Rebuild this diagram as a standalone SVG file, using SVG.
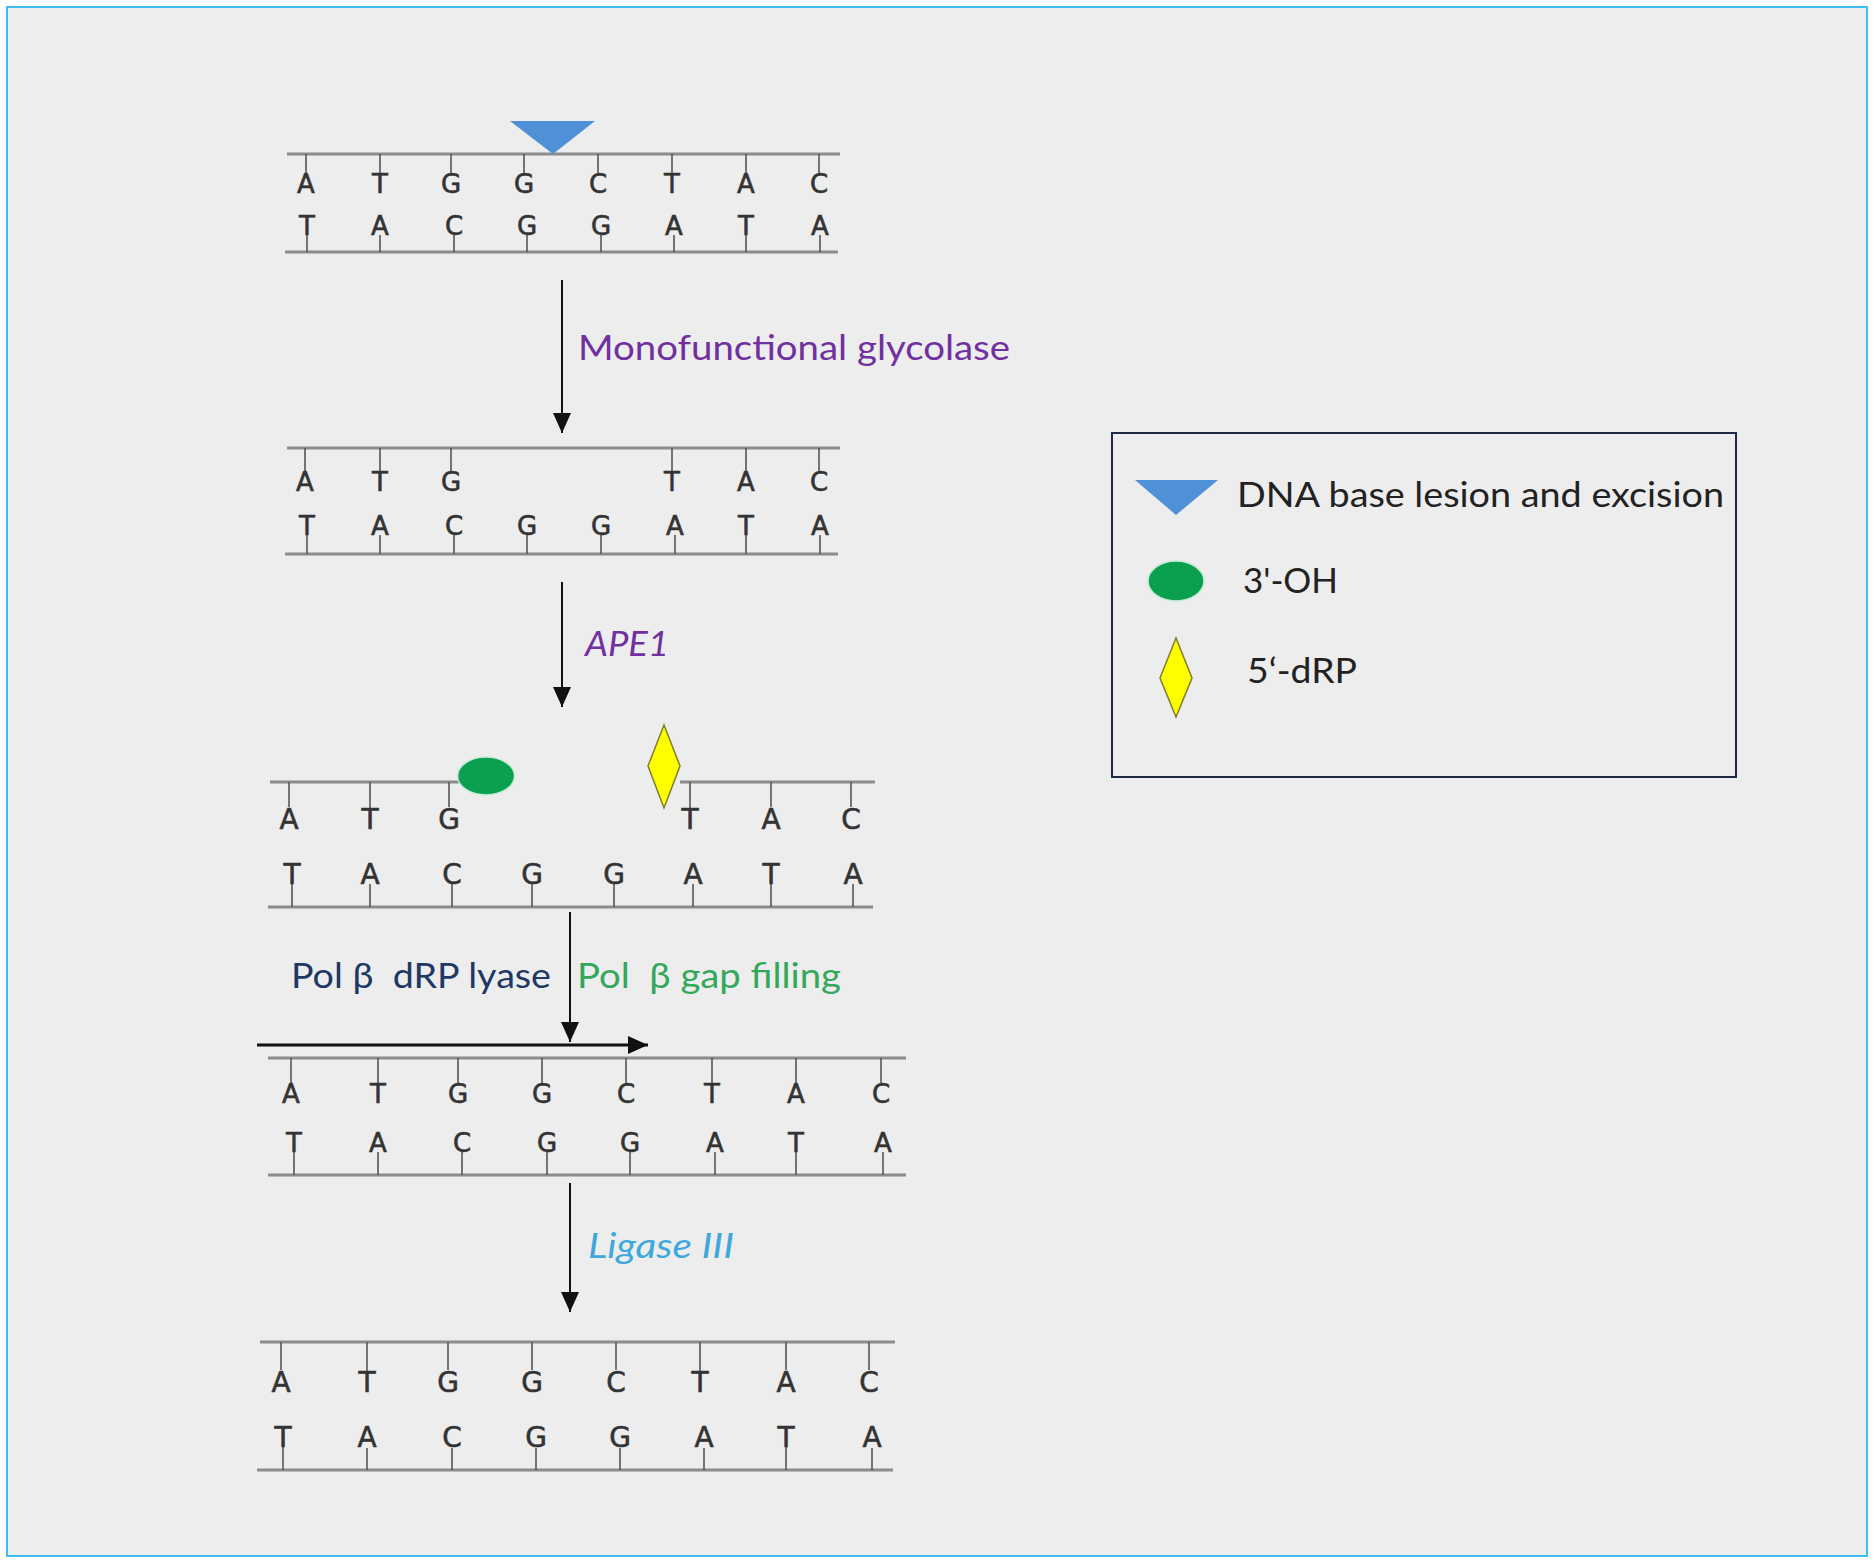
<svg xmlns="http://www.w3.org/2000/svg" width="1874" height="1563" viewBox="0 0 1874 1563">
<defs>
<style>
.bb{stroke:#8c8c8c;stroke-width:3;fill:none}
.st{stroke:#555;stroke-width:1.6}
.nt{font-family:"DejaVu Sans",sans-serif;font-size:26px;fill:#333;stroke:#333;stroke-width:0.6;text-anchor:middle}
.nt5{font-family:"DejaVu Sans",sans-serif;font-size:28px;fill:#333;stroke:#333;stroke-width:0.6;text-anchor:middle}
.lb{font-family:Lato,"Open Sans",sans-serif;font-size:35px}
.arr{stroke:#111;stroke-width:2;fill:none;marker-end:url(#ah)}
</style>
<marker id="ah" markerUnits="userSpaceOnUse" markerWidth="20" markerHeight="22" refX="20" refY="9" orient="auto" viewBox="0 0 20 18">
<path d="M0,0 L20,9 L0,18 z" fill="#111"/>
</marker>
</defs>
<rect x="0" y="0" width="1874" height="1563" fill="#ffffff"/>
<rect x="7" y="7" width="1860" height="1549" fill="#ededed" stroke="#3dbdf0" stroke-width="2"/>

<g id="strand1">
<line class="bb" x1="287" y1="154" x2="840" y2="154"/>
<line class="bb" x1="285" y1="252" x2="838" y2="252"/>
<g>
<line class="st" x1="306" y1="154" x2="306" y2="173"/><line class="st" x1="380" y1="154" x2="380" y2="174"/><line class="st" x1="451" y1="154" x2="451" y2="173"/><line class="st" x1="524" y1="154" x2="524" y2="173"/><line class="st" x1="598" y1="154" x2="598" y2="173"/><line class="st" x1="672" y1="154" x2="672" y2="174"/><line class="st" x1="746" y1="154" x2="746" y2="173"/><line class="st" x1="819" y1="154" x2="819" y2="173"/>
<line class="st" x1="307" y1="232" x2="307" y2="252"/><line class="st" x1="380" y1="235" x2="380" y2="252"/><line class="st" x1="454" y1="235" x2="454" y2="252"/><line class="st" x1="527" y1="235" x2="527" y2="252"/><line class="st" x1="601" y1="235" x2="601" y2="252"/><line class="st" x1="674" y1="235" x2="674" y2="252"/><line class="st" x1="746" y1="232" x2="746" y2="252"/><line class="st" x1="820" y1="235" x2="820" y2="252"/>
</g>
<text class="nt" x="306" y="193">A</text><text class="nt" x="380" y="193">T</text><text class="nt" x="451" y="193">G</text><text class="nt" x="524" y="193">G</text><text class="nt" x="598" y="193">C</text><text class="nt" x="672" y="193">T</text><text class="nt" x="746" y="193">A</text><text class="nt" x="819" y="193">C</text>
<text class="nt" x="307" y="235">T</text><text class="nt" x="380" y="235">A</text><text class="nt" x="454" y="235">C</text><text class="nt" x="527" y="235">G</text><text class="nt" x="601" y="235">G</text><text class="nt" x="674" y="235">A</text><text class="nt" x="746" y="235">T</text><text class="nt" x="820" y="235">A</text>
<polygon points="510,121 595,121 553,154" fill="#4e91d6"/>
</g>

<g id="strand2">
<line class="bb" x1="287" y1="448" x2="840" y2="448"/>
<line class="bb" x1="285" y1="554" x2="838" y2="554"/>
<line class="st" x1="305" y1="448" x2="305" y2="471"/><line class="st" x1="380" y1="448" x2="380" y2="472"/><line class="st" x1="451" y1="448" x2="451" y2="471"/><line class="st" x1="672" y1="448" x2="672" y2="472"/><line class="st" x1="746" y1="448" x2="746" y2="471"/><line class="st" x1="819" y1="448" x2="819" y2="471"/>
<line class="st" x1="307" y1="532" x2="307" y2="554"/><line class="st" x1="380" y1="535" x2="380" y2="554"/><line class="st" x1="454" y1="535" x2="454" y2="554"/><line class="st" x1="527" y1="535" x2="527" y2="554"/><line class="st" x1="601" y1="535" x2="601" y2="554"/><line class="st" x1="675" y1="535" x2="675" y2="554"/><line class="st" x1="746" y1="532" x2="746" y2="554"/><line class="st" x1="820" y1="535" x2="820" y2="554"/>
<text class="nt" x="305" y="491">A</text><text class="nt" x="380" y="491">T</text><text class="nt" x="451" y="491">G</text><text class="nt" x="672" y="491">T</text><text class="nt" x="746" y="491">A</text><text class="nt" x="819" y="491">C</text>
<text class="nt" x="307" y="535">T</text><text class="nt" x="380" y="535">A</text><text class="nt" x="454" y="535">C</text><text class="nt" x="527" y="535">G</text><text class="nt" x="601" y="535">G</text><text class="nt" x="675" y="535">A</text><text class="nt" x="746" y="535">T</text><text class="nt" x="820" y="535">A</text>
</g>

<g id="strand3">
<line class="bb" x1="270" y1="782" x2="460" y2="782"/>
<line class="bb" x1="680" y1="782" x2="875" y2="782"/>
<line class="bb" x1="268" y1="907" x2="873" y2="907"/>
<line class="st" x1="289" y1="782" x2="289" y2="807"/><line class="st" x1="370" y1="782" x2="370" y2="808"/><line class="st" x1="449" y1="782" x2="449" y2="807"/><line class="st" x1="690" y1="782" x2="690" y2="808"/><line class="st" x1="771" y1="782" x2="771" y2="807"/><line class="st" x1="851" y1="782" x2="851" y2="807"/>
<line class="st" x1="292" y1="882" x2="292" y2="907"/><line class="st" x1="370" y1="884" x2="370" y2="907"/><line class="st" x1="452" y1="884" x2="452" y2="907"/><line class="st" x1="532" y1="884" x2="532" y2="907"/><line class="st" x1="614" y1="884" x2="614" y2="907"/><line class="st" x1="693" y1="884" x2="693" y2="907"/><line class="st" x1="771" y1="882" x2="771" y2="907"/><line class="st" x1="853" y1="884" x2="853" y2="907"/>
<text class="nt5" x="289" y="829">A</text><text class="nt5" x="370" y="829">T</text><text class="nt5" x="449" y="829">G</text><text class="nt5" x="690" y="829">T</text><text class="nt5" x="771" y="829">A</text><text class="nt5" x="851" y="829">C</text>
<text class="nt5" x="292" y="884">T</text><text class="nt5" x="370" y="884">A</text><text class="nt5" x="452" y="884">C</text><text class="nt5" x="532" y="884">G</text><text class="nt5" x="614" y="884">G</text><text class="nt5" x="693" y="884">A</text><text class="nt5" x="771" y="884">T</text><text class="nt5" x="853" y="884">A</text>
<ellipse cx="486" cy="776" rx="28.5" ry="19" fill="#0ba04f" stroke="#c8ecd8" stroke-width="1.5"/>
<polygon points="664,725 680,766 664,808 648,766" fill="#ffff00" stroke="#7d7d2a" stroke-width="1.5"/>
</g>

<g id="strand4">
<line class="bb" x1="268" y1="1058" x2="906" y2="1058"/>
<line class="bb" x1="268" y1="1175" x2="906" y2="1175"/>
<line class="st" x1="291" y1="1058" x2="291" y2="1083"/><line class="st" x1="378" y1="1058" x2="378" y2="1084"/><line class="st" x1="458" y1="1058" x2="458" y2="1083"/><line class="st" x1="542" y1="1058" x2="542" y2="1083"/><line class="st" x1="626" y1="1058" x2="626" y2="1083"/><line class="st" x1="712" y1="1058" x2="712" y2="1084"/><line class="st" x1="796" y1="1058" x2="796" y2="1083"/><line class="st" x1="881" y1="1058" x2="881" y2="1083"/>
<line class="st" x1="294" y1="1150" x2="294" y2="1175"/><line class="st" x1="378" y1="1152" x2="378" y2="1175"/><line class="st" x1="462" y1="1152" x2="462" y2="1175"/><line class="st" x1="547" y1="1152" x2="547" y2="1175"/><line class="st" x1="630" y1="1152" x2="630" y2="1175"/><line class="st" x1="715" y1="1152" x2="715" y2="1175"/><line class="st" x1="796" y1="1150" x2="796" y2="1175"/><line class="st" x1="883" y1="1152" x2="883" y2="1175"/>
<text class="nt" x="291" y="1103">A</text><text class="nt" x="378" y="1103">T</text><text class="nt" x="458" y="1103">G</text><text class="nt" x="542" y="1103">G</text><text class="nt" x="626" y="1103">C</text><text class="nt" x="712" y="1103">T</text><text class="nt" x="796" y="1103">A</text><text class="nt" x="881" y="1103">C</text>
<text class="nt" x="294" y="1152">T</text><text class="nt" x="378" y="1152">A</text><text class="nt" x="462" y="1152">C</text><text class="nt" x="547" y="1152">G</text><text class="nt" x="630" y="1152">G</text><text class="nt" x="715" y="1152">A</text><text class="nt" x="796" y="1152">T</text><text class="nt" x="883" y="1152">A</text>
</g>

<g id="strand5">
<line class="bb" x1="260" y1="1342" x2="895" y2="1342"/>
<line class="bb" x1="257" y1="1470" x2="893" y2="1470"/>
<line class="st" x1="281" y1="1342" x2="281" y2="1370"/><line class="st" x1="367" y1="1342" x2="367" y2="1371"/><line class="st" x1="448" y1="1342" x2="448" y2="1370"/><line class="st" x1="532" y1="1342" x2="532" y2="1370"/><line class="st" x1="616" y1="1342" x2="616" y2="1370"/><line class="st" x1="700" y1="1342" x2="700" y2="1371"/><line class="st" x1="786" y1="1342" x2="786" y2="1370"/><line class="st" x1="869" y1="1342" x2="869" y2="1370"/>
<line class="st" x1="283" y1="1446" x2="283" y2="1470"/><line class="st" x1="367" y1="1448" x2="367" y2="1470"/><line class="st" x1="452" y1="1448" x2="452" y2="1470"/><line class="st" x1="536" y1="1448" x2="536" y2="1470"/><line class="st" x1="620" y1="1448" x2="620" y2="1470"/><line class="st" x1="704" y1="1448" x2="704" y2="1470"/><line class="st" x1="786" y1="1446" x2="786" y2="1470"/><line class="st" x1="872" y1="1448" x2="872" y2="1470"/>
<text class="nt5" x="281" y="1392">A</text><text class="nt5" x="367" y="1392">T</text><text class="nt5" x="448" y="1392">G</text><text class="nt5" x="532" y="1392">G</text><text class="nt5" x="616" y="1392">C</text><text class="nt5" x="700" y="1392">T</text><text class="nt5" x="786" y="1392">A</text><text class="nt5" x="869" y="1392">C</text>
<text class="nt5" x="283" y="1447">T</text><text class="nt5" x="367" y="1447">A</text><text class="nt5" x="452" y="1447">C</text><text class="nt5" x="536" y="1447">G</text><text class="nt5" x="620" y="1447">G</text><text class="nt5" x="704" y="1447">A</text><text class="nt5" x="786" y="1447">T</text><text class="nt5" x="872" y="1447">A</text>
</g>

<g id="connectors">
<line class="arr" x1="562" y1="280" x2="562" y2="433"/>
<line class="arr" x1="562" y1="582" x2="562" y2="707"/>
<line class="arr" x1="570" y1="912" x2="570" y2="1042"/>
<line class="arr" x1="257" y1="1045" x2="648" y2="1045" style="stroke-width:3"/>
<line class="arr" x1="570" y1="1183" x2="570" y2="1312"/>
</g>

<g id="labels">
<text class="lb" x="578" y="360" fill="#7030a0" textLength="432" lengthAdjust="spacingAndGlyphs">Monofunctional glycolase</text>
<text class="lb" x="585" y="656" fill="#7030a0" font-style="italic" textLength="84" lengthAdjust="spacingAndGlyphs">APE1</text>
<text class="lb" x="291" y="988" fill="#203864" xml:space="preserve" textLength="260" lengthAdjust="spacingAndGlyphs">Pol β  dRP lyase</text>
<text class="lb" x="577" y="988" fill="#33a85a" xml:space="preserve" textLength="264" lengthAdjust="spacingAndGlyphs">Pol  β gap filling</text>
<text class="lb" x="588" y="1258" fill="#3ea8dc" font-style="italic" textLength="146" lengthAdjust="spacingAndGlyphs">Ligase III</text>
</g>

<g id="legend">
<rect x="1112" y="433" width="624" height="344" fill="none" stroke="#1f2a44" stroke-width="2"/>
<polygon points="1135,480 1218,480 1176,515" fill="#4e91d6"/>
<text class="lb" x="1237" y="507" fill="#222" textLength="487" lengthAdjust="spacingAndGlyphs">DNA base lesion and excision</text>
<ellipse cx="1176" cy="581" rx="28" ry="20" fill="#0ba04f" stroke="#c8ecd8" stroke-width="1.5"/>
<text class="lb" x="1243" y="593" fill="#222" textLength="95" lengthAdjust="spacingAndGlyphs">3'-OH</text>
<polygon points="1176,638 1192,678 1176,717 1160,678" fill="#ffff00" stroke="#7d7d2a" stroke-width="1.5"/>
<text class="lb" x="1247" y="683" fill="#222" textLength="110" lengthAdjust="spacingAndGlyphs">5‘-dRP</text>
</g>
</svg>
